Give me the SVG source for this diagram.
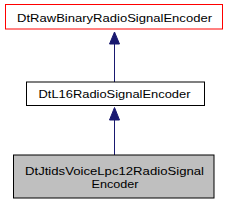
<svg xmlns="http://www.w3.org/2000/svg" width="229" height="203" viewBox="0 0 229 203">
<style>
text{font-family:"Liberation Sans",Arial,sans-serif;fill:#000;text-anchor:middle;font-size:11.5px}
.box{fill:#fff;stroke:#000;stroke-width:1}
.edge{stroke:#191970;stroke-width:1;fill:none}
.head{fill:#191970;stroke:#191970}
</style>
<rect width="229" height="203" fill="#fff"/>
<g id="edges">
<path class="edge" d="M114.5,82 V44"/>
<polygon class="head" points="114.5,32 109.5,44 119.5,44"/>
<path class="edge" d="M114.5,155 V120"/>
<polygon class="head" points="114.5,107.5 109.5,120 119.5,120"/>
</g>
<g id="node1">
<rect x="5.5" y="4.5" width="217" height="24.5" fill="#fff" stroke="#ff0000"/>
<text x="114.5" y="21.5" textLength="195" lengthAdjust="spacingAndGlyphs">DtRawBinaryRadioSignalEncoder</text>
</g>
<g id="node2">
<rect class="box" x="26.5" y="82" width="178" height="23.5"/>
<text x="114.5" y="98" textLength="152" lengthAdjust="spacingAndGlyphs">DtL16RadioSignalEncoder</text>
</g>
<g id="node3">
<rect x="13.5" y="155" width="200.5" height="43" fill="#bfbfbf" stroke="#000"/>
<text x="114.5" y="175" textLength="179" lengthAdjust="spacingAndGlyphs">DtJtidsVoiceLpc12RadioSignal</text>
<text x="115" y="187.5" textLength="47" lengthAdjust="spacingAndGlyphs">Encoder</text>
</g>
</svg>
